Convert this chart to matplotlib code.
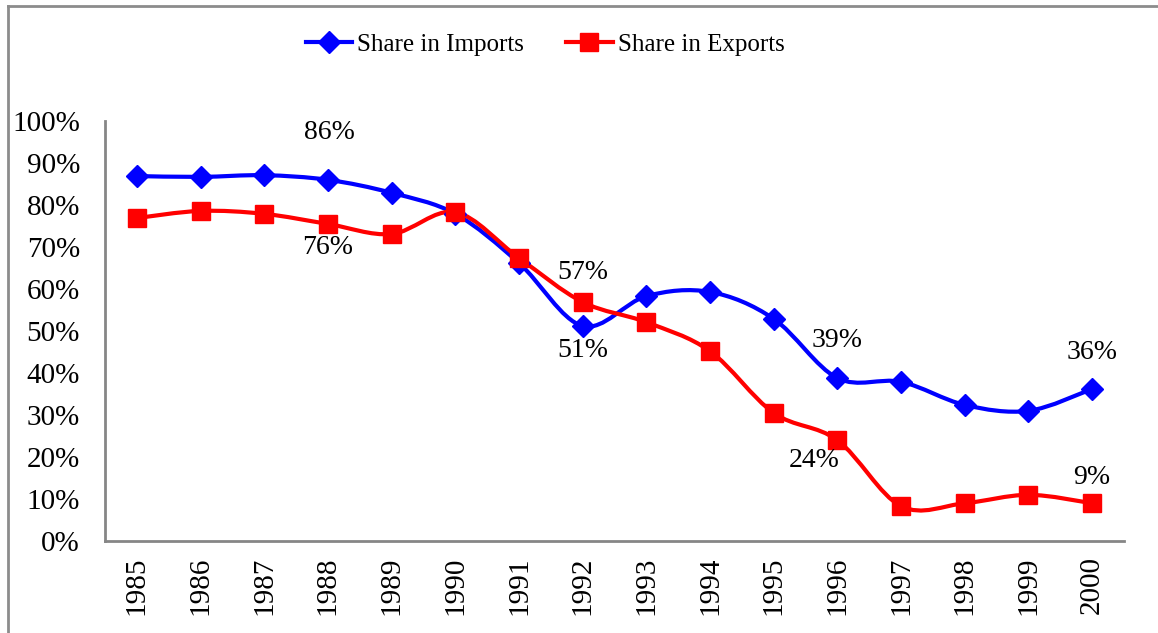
import numpy as np
import matplotlib.pyplot as plt
from matplotlib.path import Path
from matplotlib.patches import PathPatch
from matplotlib.lines import Line2D

years = ['1985', '1986', '1987', '1988', '1989', '1990', '1991', '1992',
         '1993', '1994', '1995', '1996', '1997', '1998', '1999', '2000']
imports = [86.9, 86.7, 87.1, 86.0, 82.9, 77.9, 66.2, 51.2,
           58.3, 59.3, 52.9, 38.8, 37.9, 32.4, 31.0, 36.2]
exports = [76.9, 78.6, 77.9, 75.5, 73.1, 78.3, 67.4, 56.9,
           52.1, 45.2, 30.5, 24.0, 8.3, 9.0, 11.0, 9.0]

# labelled points: (index, text, x offset px, y offset px)
imp_labels = [(3, '86%', 2, 47), (7, '51%', 0, -25), (11, '39%', 0, 38), (15, '36%', 0, 36)]
exp_labels = [(3, '76%', 0, -24), (7, '57%', 0, 30), (11, '24%', -23, -20), (15, '9%', 0, 26)]

plt.rcParams['font.family'] = ['Liberation Serif', 'DejaVu Serif']


def smooth_path(x, y):
    # excel-like smoothed line: cubic bezier through every point
    p = np.column_stack([x, y]).astype(float)
    n = len(p)
    verts = [p[0]]
    codes = [Path.MOVETO]
    for i in range(n - 1):
        p0 = p[i - 1] if i > 0 else p[i]
        p3 = p[i + 2] if i + 2 < n else p[i + 1]
        c1 = p[i] + (p[i + 1] - p0) / 6
        c2 = p[i + 1] - (p3 - p[i]) / 6
        verts += [c1, c2, p[i + 1]]
        codes += [Path.CURVE4] * 3
    return Path(verts, codes)


fig = plt.figure(figsize=(11.58, 6.33), dpi=100)
ax = fig.add_axes([0.0907, 0.1453, 0.8799, 0.6635])

x = np.arange(len(years))
ax.add_patch(PathPatch(smooth_path(x, imports), fill=False, edgecolor='#0000FF', lw=3, zorder=2))
ax.add_patch(PathPatch(smooth_path(x, exports), fill=False, edgecolor='#FF0000', lw=3, zorder=2))
ax.plot(x, imports, ls='none', marker='D', ms=11, color='#0000FF', zorder=3)
ax.plot(x, exports, ls='none', marker='s', ms=12.5, color='#FF0000', zorder=3)

for i, t, dx, dy in imp_labels:
    ax.annotate(t, (x[i], imports[i]), xytext=(dx * 0.72, dy * 0.72), textcoords='offset points',
                ha='center', va='center', fontsize=20)
for i, t, dx, dy in exp_labels:
    ax.annotate(t, (x[i], exports[i]), xytext=(dx * 0.72, dy * 0.72), textcoords='offset points',
                ha='center', va='center', fontsize=20)

ax.set_xlim(-0.5, len(years) - 0.5)
ax.set_ylim(0, 100)
ax.set_xticks(x)
ax.set_xticklabels(years, rotation=90, fontsize=21)
ax.set_yticks(np.arange(0, 101, 10))
ax.set_yticklabels([f'{v}%' for v in range(0, 101, 10)], fontsize=21)
ax.tick_params(axis='x', length=0, pad=11)
ax.tick_params(axis='y', length=0, pad=18)
for s in ['top', 'right']:
    ax.spines[s].set_visible(False)
for s in ['left', 'bottom']:
    ax.spines[s].set_color('#868686')
    ax.spines[s].set_linewidth(2)

handles = [Line2D([], [], color='#0000FF', lw=3, marker='D', ms=11),
           Line2D([], [], color='#FF0000', lw=3, marker='s', ms=12.5)]
fig.legend(handles, ['Share in Imports', 'Share in Exports'], loc='center',
           bbox_to_anchor=(0.4706, 0.929), ncol=2, frameon=False, fontsize=18,
           handlelength=1.85, handletextpad=0.2, columnspacing=1.7)

# chart frame (only top and left edges visible)
fig.add_artist(Line2D([0.0069, 1], [0.9905, 0.9905], color='#8c8c8c', lw=2, transform=fig.transFigure))
fig.add_artist(Line2D([0.0069, 0.0069], [0, 0.9905], color='#8c8c8c', lw=2, transform=fig.transFigure))

fig.savefig('out.png', dpi=100)
